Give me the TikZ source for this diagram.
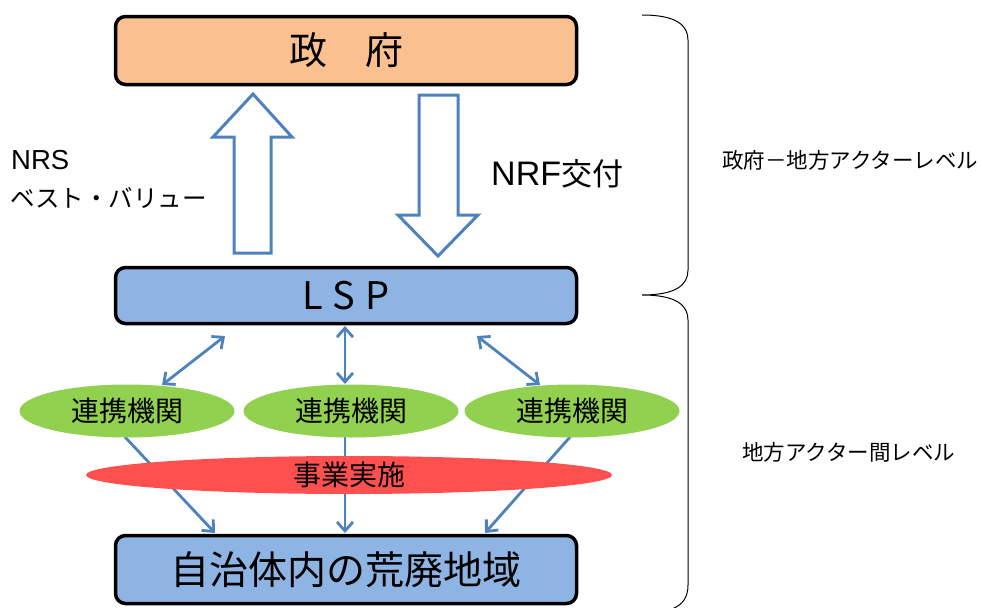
\documentclass[tikz,border=0pt]{standalone}
\usepackage{fontspec}
\setmainfont{Noto Sans CJK JP}
\newfontfamily\lat{Liberation Sans}
\usetikzlibrary{arrows.meta,shapes.geometric}
\definecolor{peach}{HTML}{FAC090}
\definecolor{boxblue}{HTML}{8EB4E3}
\definecolor{lineblue}{HTML}{4F81BD}
\definecolor{leafgreen}{HTML}{92D050}
\definecolor{brightred}{HTML}{FF5050}
\tikzset{
  fsz/.style={font=\fontsize{#1}{#1}\selectfont},
  mainbox/.style={draw=black, line width=3.5pt, rounded corners=10pt, minimum width=461pt, inner sep=0pt},
  partner/.style={ellipse, fill=leafgreen, minimum width=215pt, minimum height=53pt, inner sep=0pt, fsz=28},
  bigarrow/.style={draw=lineblue, line width=3pt, fill=white, line join=miter},
  dblarrow/.style={draw=lineblue, line width=2.8pt, {Straight Barb[length=9pt,width=16pt]}-{Straight Barb[length=9pt,width=16pt]}},
  onearrow/.style={draw=lineblue, line width=2.8pt, -{Straight Barb[length=9pt,width=16pt]}},
  label/.style={inner sep=0pt}
}
\begin{document}
\begin{tikzpicture}[x=1pt,y=-1pt]
\useasboundingbox (0,0) rectangle (983,608);

% connectors beneath red ellipse
\coordinate (l1) at (125,437);
\coordinate (l1e) at (215,533);
\coordinate (l2) at (345,437);
\coordinate (l2e) at (345,533);
\coordinate (l3) at (570,437);
\coordinate (l3e) at (485,533);
\draw[onearrow] (l1) -- (l1e);
\draw[onearrow] (l2) -- (l2e);
\draw[onearrow] (l3) -- (l3e);

% boxes
\node[mainbox, fill=peach, minimum height=68pt, fsz=38] (gov) at (346,50.5) {政　府};
\node[mainbox, fill=boxblue, minimum height=56pt, fsz=38] (lsp) at (346,295.5) {L\hspace{10pt}S\hspace{10pt}P};
\node[mainbox, fill=boxblue, minimum height=68pt, fsz=39] (area) at (346,569.5) {自治体内の荒廃地域};

% partner ellipses
\node[partner] (p1) at (127,411) {連携機関};
\node[partner] (p2) at (351,411) {連携機関};
\node[partner] (p3) at (572,411) {連携機関};

% project ellipse
\node[ellipse, fill=brightred, minimum width=526pt, minimum height=38pt, inner sep=0pt, fsz=28] (proj) at (349,475) {事業実施};

% big hollow arrows
\draw[bigarrow] (234,253) -- (234,137) -- (213,137) -- (253,94) -- (292,137) -- (271,137) -- (271,253) -- cycle;
\draw[bigarrow] (419,95) -- (458,95) -- (458,215) -- (478,215) -- (438,256) -- (398,215) -- (419,215) -- cycle;

% double arrows
\coordinate (d1a) at (225,336);
\coordinate (d1b) at (162,385);
\coordinate (d2a) at (345,326);
\coordinate (d2b) at (345,384);
\coordinate (d3a) at (477,336);
\coordinate (d3b) at (540,385);
\draw[dblarrow] (d1a) -- (d1b);
\draw[dblarrow] (d2a) -- (d2b);
\draw[dblarrow] (d3a) -- (d3b);

% labels
\node[label, anchor=base west, font=\lat\fontsize{27.5}{27.5}\selectfont] (nrs) at (11,169) {NRS};
\node[label, anchor=base west, fsz=24.5] (bv) at (10,207) {ベスト・バリュー};
\node[label, anchor=base west, fsz=31] (nrf) at (491,185) {{\lat\fontsize{34}{34}\selectfont NRF}交付};
\node[label, anchor=base west, fsz=21.5] (lv1) at (722,168) {政府－地方アクターレベル};
\node[label, anchor=base west, fsz=21.5] (lv2) at (742,460) {地方アクター間レベル};

% braces
\draw[line width=1pt] (642,15) .. controls (676,15) and (688,25) .. (688,40) -- (688,270)
  .. controls (688,285) and (676,295) .. (642,295)
  .. controls (676,295) and (688,305) .. (688,320) -- (688,585)
  .. controls (688,598) and (682,605) .. (672,609);
\end{tikzpicture}
\end{document}
